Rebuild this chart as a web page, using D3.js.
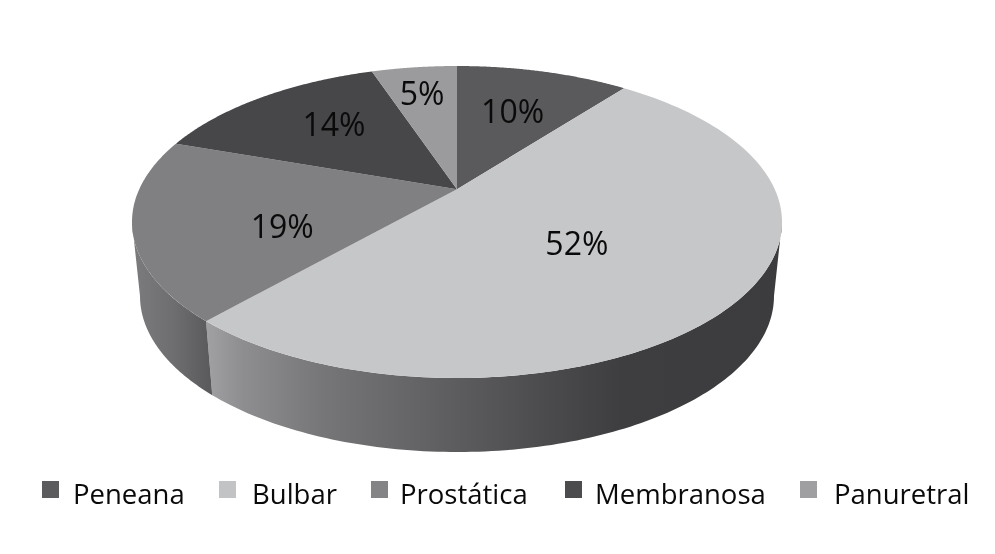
<!DOCTYPE html>
<html>
<head>
<meta charset="utf-8">
<script src="https://cdn.jsdelivr.net/npm/d3@7/dist/d3.min.js"></script>
<style>
html,body{margin:0;padding:0;background:#fff}
svg{display:block;filter:blur(0.45px)}
text{font-family:"Open Sans",sans-serif;fill:#0a0a0a}
</style>
</head>
<body>
<svg id="chart" width="995" height="554"></svg>
<script>
const categories = ["Peneana", "Bulbar", "Prostática", "Membranosa", "Panuretral"];
const percentLabels = [10, 52, 19, 14, 5];
const sliceShares = [10.5, 51.1, 18.7, 14.5, 5.2];
const topColors = ["#5a5a5c", "#c6c7c9", "#808082", "#47474a", "#9b9b9d"];
const legendColors = ["#5c5c5e", "#c2c3c5", "#848486", "#4c4c4e", "#9f9fa1"];
const labelRadius = [0.62, 0.485, 0.573, 0.643, 0.758];
const labelTurn = [-0.4, 3.9, -9.5, 3.3, -0.3];
const legendBox = [42, 219, 371, 565, 800];
const legendText = [73, 252, 400, 595, 834];

const svg = d3.select("#chart");
const defs = svg.append("defs");

const k = -0.21, q = Math.sqrt(1 - k * k), cx = 457;
const topE = {cy: 222, rx: 325, ry: 156};
const botE = {cy: 296, rx: 317, ry: 156};
// projective map: circle angle (clockwise from top) -> ellipse with the pie centre off the ellipse centre
const project = (e, a, r = 1) => {
  const c = r * Math.sin(a), s = -r * Math.cos(a), d = 1 + k * s;
  return [cx + e.rx * c * q / d, e.cy + e.ry * (s + k) / d];
};
const line = d3.line();
const arcPts = (e, a0, a1, n = 120) =>
  d3.range(n + 1).map(i => project(e, a0 + (a1 - a0) * i / n));

const arcs = d3.pie().sort(null).value(d => d)(sliceShares);

// circle angles at which the ellipse reaches its widest right / left points
const rightA = Math.acos(k);
const leftA = 2 * Math.PI - rightA;

function grad(id, x1, x2, stops) {
  const g = defs.append("linearGradient").attr("id", id)
    .attr("gradientUnits", "userSpaceOnUse")
    .attr("x1", x1).attr("x2", x2).attr("y1", 0).attr("y2", 0);
  stops.forEach(s => g.append("stop").attr("offset", s[0]).attr("stop-color", s[1]));
}
grad("sideBulbar", 208, 782, [[0, "#a0a0a2"], [0.06, "#8e8e90"], [0.2, "#767678"], [0.4, "#606062"], [0.6, "#4a4a4c"], [0.72, "#3e3e40"], [1, "#3c3c3e"]]);
grad("sideProst", 132, 214, [[0, "#7c7c7e"], [0.5, "#6e6e70"], [1, "#58585a"]]);

const wall = (a0, a1, fill) => {
  const t = arcPts(topE, a0, a1), b = arcPts(botE, a1, a0);
  svg.append("path").attr("d", line(t.concat(b)) + "Z").attr("fill", fill);
};
const joint = arcs[1].endAngle;
wall(rightA, joint, "url(#sideBulbar)");
wall(joint, leftA, "url(#sideProst)");

// top faces
svg.append("g").selectAll("path").data(arcs).join("path")
  .attr("d", d => {
    const pts = arcPts(topE, d.startAngle, d.endAngle);
    return line([project(topE, 0, 0), ...pts]) + "Z";
  })
  .attr("fill", (d, i) => topColors[i]);

// percentage labels
const labelPos = (d, i) => project(topE, (d.startAngle + d.endAngle) / 2 + labelTurn[i] * Math.PI / 180, labelRadius[i]);
svg.append("g").selectAll("text").data(arcs).join("text")
  .attr("text-anchor", "middle")
  .attr("font-size", 32)
  .attr("x", (d, i) => labelPos(d, i)[0])
  .attr("y", (d, i) => labelPos(d, i)[1] + 12)
  .text((d, i) => percentLabels[i] + "%");

// legend
const lg = svg.append("g");
lg.selectAll("rect").data(categories).join("rect")
  .attr("x", (d, i) => legendBox[i]).attr("y", 481)
  .attr("width", 17).attr("height", 17)
  .attr("fill", (d, i) => legendColors[i]);
lg.selectAll("text").data(categories).join("text")
  .attr("x", (d, i) => legendText[i]).attr("y", 504)
  .attr("font-size", 27.5)
  .text(d => d);
</script>
</body>
</html>
